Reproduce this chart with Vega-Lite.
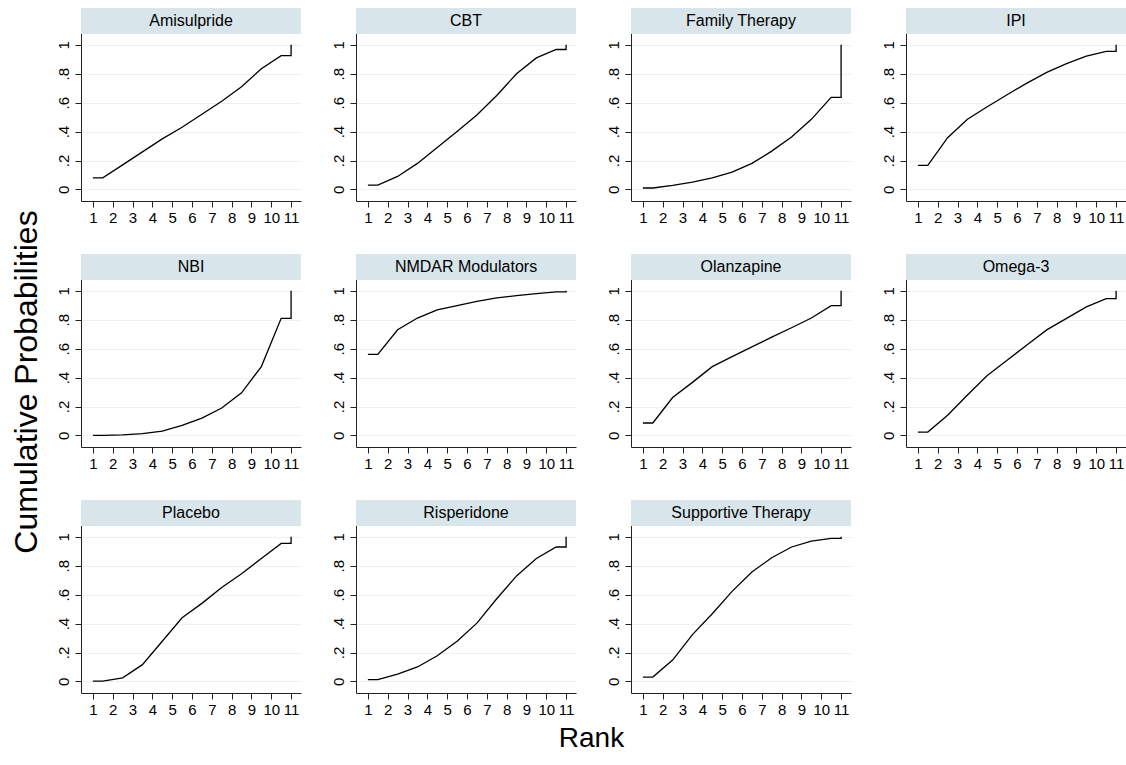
{
  "$schema": "https://vega.github.io/schema/vega-lite/v6.json",
  "padding": {"left": 10, "top": 7, "right": 0, "bottom": 5},
  "title": {"text": "Rank", "orient": "bottom", "fontSize": 28, "font": "Liberation Sans", "fontWeight": "normal", "offset": 8, "anchor": "middle", "dx": 23, "color": "#000"},
  "vconcat": [{
  "title": {"text": "Cumulative Probabilities", "orient": "left", "fontSize": 32, "font": "Liberation Sans", "fontWeight": "normal", "offset": 12, "anchor": "middle", "dx": -20, "color": "#000"},
  "data": {"values": [
    {"t":"Amisulpride","i":0,"rank":1,"p":0.08},{"t":"Amisulpride","i":1,"rank":1.5,"p":0.08},{"t":"Amisulpride","i":2,"rank":2.5,"p":0.17},{"t":"Amisulpride","i":3,"rank":3.5,"p":0.26},{"t":"Amisulpride","i":4,"rank":4.5,"p":0.35},{"t":"Amisulpride","i":5,"rank":5.5,"p":0.43},{"t":"Amisulpride","i":6,"rank":6.5,"p":0.52},{"t":"Amisulpride","i":7,"rank":7.5,"p":0.61},{"t":"Amisulpride","i":8,"rank":8.5,"p":0.71},{"t":"Amisulpride","i":9,"rank":9.5,"p":0.835},{"t":"Amisulpride","i":10,"rank":10.5,"p":0.925},{"t":"Amisulpride","i":11,"rank":11,"p":0.925},{"t":"Amisulpride","i":12,"rank":11,"p":1},
    {"t":"CBT","i":0,"rank":1,"p":0.03},{"t":"CBT","i":1,"rank":1.5,"p":0.03},{"t":"CBT","i":2,"rank":2.5,"p":0.09},{"t":"CBT","i":3,"rank":3.5,"p":0.18},{"t":"CBT","i":4,"rank":4.5,"p":0.29},{"t":"CBT","i":5,"rank":5.5,"p":0.4},{"t":"CBT","i":6,"rank":6.5,"p":0.515},{"t":"CBT","i":7,"rank":7.5,"p":0.65},{"t":"CBT","i":8,"rank":8.5,"p":0.8},{"t":"CBT","i":9,"rank":9.5,"p":0.91},{"t":"CBT","i":10,"rank":10.5,"p":0.968},{"t":"CBT","i":11,"rank":11,"p":0.968},{"t":"CBT","i":12,"rank":11,"p":1},
    {"t":"Family Therapy","i":0,"rank":1,"p":0.01},{"t":"Family Therapy","i":1,"rank":1.5,"p":0.01},{"t":"Family Therapy","i":2,"rank":2.5,"p":0.028},{"t":"Family Therapy","i":3,"rank":3.5,"p":0.05},{"t":"Family Therapy","i":4,"rank":4.5,"p":0.08},{"t":"Family Therapy","i":5,"rank":5.5,"p":0.12},{"t":"Family Therapy","i":6,"rank":6.5,"p":0.18},{"t":"Family Therapy","i":7,"rank":7.5,"p":0.265},{"t":"Family Therapy","i":8,"rank":8.5,"p":0.363},{"t":"Family Therapy","i":9,"rank":9.5,"p":0.485},{"t":"Family Therapy","i":10,"rank":10.5,"p":0.637},{"t":"Family Therapy","i":11,"rank":11,"p":0.637},{"t":"Family Therapy","i":12,"rank":11,"p":1},
    {"t":"IPI","i":0,"rank":1,"p":0.166},{"t":"IPI","i":1,"rank":1.5,"p":0.166},{"t":"IPI","i":2,"rank":2.5,"p":0.358},{"t":"IPI","i":3,"rank":3.5,"p":0.485},{"t":"IPI","i":4,"rank":4.5,"p":0.572},{"t":"IPI","i":5,"rank":5.5,"p":0.655},{"t":"IPI","i":6,"rank":6.5,"p":0.735},{"t":"IPI","i":7,"rank":7.5,"p":0.81},{"t":"IPI","i":8,"rank":8.5,"p":0.87},{"t":"IPI","i":9,"rank":9.5,"p":0.922},{"t":"IPI","i":10,"rank":10.5,"p":0.955},{"t":"IPI","i":11,"rank":11,"p":0.955},{"t":"IPI","i":12,"rank":11,"p":1},
    {"t":"NBI","i":0,"rank":1,"p":0.0},{"t":"NBI","i":1,"rank":1.5,"p":0.0},{"t":"NBI","i":2,"rank":2.5,"p":0.004},{"t":"NBI","i":3,"rank":3.5,"p":0.012},{"t":"NBI","i":4,"rank":4.5,"p":0.03},{"t":"NBI","i":5,"rank":5.5,"p":0.07},{"t":"NBI","i":6,"rank":6.5,"p":0.12},{"t":"NBI","i":7,"rank":7.5,"p":0.19},{"t":"NBI","i":8,"rank":8.5,"p":0.295},{"t":"NBI","i":9,"rank":9.5,"p":0.476},{"t":"NBI","i":10,"rank":10.5,"p":0.81},{"t":"NBI","i":11,"rank":11,"p":0.81},{"t":"NBI","i":12,"rank":11,"p":1},
    {"t":"NMDAR Modulators","i":0,"rank":1,"p":0.561},{"t":"NMDAR Modulators","i":1,"rank":1.5,"p":0.561},{"t":"NMDAR Modulators","i":2,"rank":2.5,"p":0.731},{"t":"NMDAR Modulators","i":3,"rank":3.5,"p":0.812},{"t":"NMDAR Modulators","i":4,"rank":4.5,"p":0.868},{"t":"NMDAR Modulators","i":5,"rank":5.5,"p":0.898},{"t":"NMDAR Modulators","i":6,"rank":6.5,"p":0.928},{"t":"NMDAR Modulators","i":7,"rank":7.5,"p":0.951},{"t":"NMDAR Modulators","i":8,"rank":8.5,"p":0.967},{"t":"NMDAR Modulators","i":9,"rank":9.5,"p":0.981},{"t":"NMDAR Modulators","i":10,"rank":10.5,"p":0.993},{"t":"NMDAR Modulators","i":11,"rank":11,"p":0.993},{"t":"NMDAR Modulators","i":12,"rank":11,"p":1},
    {"t":"Olanzapine","i":0,"rank":1,"p":0.086},{"t":"Olanzapine","i":1,"rank":1.5,"p":0.086},{"t":"Olanzapine","i":2,"rank":2.5,"p":0.262},{"t":"Olanzapine","i":3,"rank":3.5,"p":0.367},{"t":"Olanzapine","i":4,"rank":4.5,"p":0.476},{"t":"Olanzapine","i":5,"rank":5.5,"p":0.545},{"t":"Olanzapine","i":6,"rank":6.5,"p":0.612},{"t":"Olanzapine","i":7,"rank":7.5,"p":0.68},{"t":"Olanzapine","i":8,"rank":8.5,"p":0.745},{"t":"Olanzapine","i":9,"rank":9.5,"p":0.812},{"t":"Olanzapine","i":10,"rank":10.5,"p":0.898},{"t":"Olanzapine","i":11,"rank":11,"p":0.898},{"t":"Olanzapine","i":12,"rank":11,"p":1},
    {"t":"Omega-3","i":0,"rank":1,"p":0.023},{"t":"Omega-3","i":1,"rank":1.5,"p":0.023},{"t":"Omega-3","i":2,"rank":2.5,"p":0.14},{"t":"Omega-3","i":3,"rank":3.5,"p":0.28},{"t":"Omega-3","i":4,"rank":4.5,"p":0.415},{"t":"Omega-3","i":5,"rank":5.5,"p":0.52},{"t":"Omega-3","i":6,"rank":6.5,"p":0.625},{"t":"Omega-3","i":7,"rank":7.5,"p":0.73},{"t":"Omega-3","i":8,"rank":8.5,"p":0.81},{"t":"Omega-3","i":9,"rank":9.5,"p":0.889},{"t":"Omega-3","i":10,"rank":10.5,"p":0.947},{"t":"Omega-3","i":11,"rank":11,"p":0.947},{"t":"Omega-3","i":12,"rank":11,"p":1},
    {"t":"Placebo","i":0,"rank":1,"p":0.002},{"t":"Placebo","i":1,"rank":1.5,"p":0.002},{"t":"Placebo","i":2,"rank":2.5,"p":0.025},{"t":"Placebo","i":3,"rank":3.5,"p":0.116},{"t":"Placebo","i":4,"rank":4.5,"p":0.278},{"t":"Placebo","i":5,"rank":5.5,"p":0.44},{"t":"Placebo","i":6,"rank":6.5,"p":0.54},{"t":"Placebo","i":7,"rank":7.5,"p":0.65},{"t":"Placebo","i":8,"rank":8.5,"p":0.745},{"t":"Placebo","i":9,"rank":9.5,"p":0.85},{"t":"Placebo","i":10,"rank":10.5,"p":0.955},{"t":"Placebo","i":11,"rank":11,"p":0.955},{"t":"Placebo","i":12,"rank":11,"p":1},
    {"t":"Risperidone","i":0,"rank":1,"p":0.012},{"t":"Risperidone","i":1,"rank":1.5,"p":0.012},{"t":"Risperidone","i":2,"rank":2.5,"p":0.05},{"t":"Risperidone","i":3,"rank":3.5,"p":0.1},{"t":"Risperidone","i":4,"rank":4.5,"p":0.178},{"t":"Risperidone","i":5,"rank":5.5,"p":0.278},{"t":"Risperidone","i":6,"rank":6.5,"p":0.403},{"t":"Risperidone","i":7,"rank":7.5,"p":0.572},{"t":"Risperidone","i":8,"rank":8.5,"p":0.73},{"t":"Risperidone","i":9,"rank":9.5,"p":0.85},{"t":"Risperidone","i":10,"rank":10.5,"p":0.93},{"t":"Risperidone","i":11,"rank":11,"p":0.93},{"t":"Risperidone","i":12,"rank":11,"p":1},
    {"t":"Supportive Therapy","i":0,"rank":1,"p":0.03},{"t":"Supportive Therapy","i":1,"rank":1.5,"p":0.03},{"t":"Supportive Therapy","i":2,"rank":2.5,"p":0.148},{"t":"Supportive Therapy","i":3,"rank":3.5,"p":0.324},{"t":"Supportive Therapy","i":4,"rank":4.5,"p":0.468},{"t":"Supportive Therapy","i":5,"rank":5.5,"p":0.623},{"t":"Supportive Therapy","i":6,"rank":6.5,"p":0.757},{"t":"Supportive Therapy","i":7,"rank":7.5,"p":0.856},{"t":"Supportive Therapy","i":8,"rank":8.5,"p":0.93},{"t":"Supportive Therapy","i":9,"rank":9.5,"p":0.97},{"t":"Supportive Therapy","i":10,"rank":10.5,"p":0.99},{"t":"Supportive Therapy","i":11,"rank":11,"p":0.99},{"t":"Supportive Therapy","i":12,"rank":11,"p":1}
  ]},
  "facet": {"field": "t", "type": "nominal", "header": {"labels": false, "labelExpr": "''", "labelPadding": 0, "labelFontSize": 1, "title": null}},
  "columns": 4,
  "spacing": {"row": 28, "column": 29},
  "resolve": {"axis": {"x": "independent", "y": "independent"}},
  "spec": {
    "width": 220,
    "height": 193,
    "layer": [
      {
        "mark": {"type": "line", "color": "#000", "strokeWidth": 1.3},
        "encoding": {
          "x": {"field": "rank", "type": "quantitative",
            "scale": {"domain": [0.4, 11.5], "nice": false, "zero": false},
            "axis": {"values": [1,2,3,4,5,6,7,8,9,10,11], "tickCount": 11, "title": null, "grid": false, "labelOverlap": false, "labelFontSize": 15, "tickSize": 6, "labelPadding": 3}},
          "y": {"field": "p", "type": "quantitative",
            "scale": {"domain": [-0.08, 1.255], "nice": false, "zero": false},
            "axis": {"values": [0,0.2,0.4,0.6,0.8,1], "tickCount": 6, "format": ".1~f", "labelExpr": "datum.value > 0 && datum.value < 1 ? substring(datum.label, 1) : datum.label", "title": null, "grid": true, "labelOverlap": false, "labelFontSize": 15, "tickSize": 6, "labelPadding": 4, "labelAngle": 270}},
          "order": {"field": "i", "type": "quantitative"}
        }
      },
      {
        "transform": [{"filter": "datum.i == 0"}],
        "mark": {"type": "rect", "color": "#d8e5eb"},
        "encoding": {"x": {"datum": 0.4}, "x2": {"datum": 11.5}, "y": {"datum": 1.075}, "y2": {"datum": 1.255}}
      },
      {
        "transform": [{"filter": "datum.i == 0"}],
        "mark": {"type": "text", "fontSize": 16, "font": "Liberation Sans", "color": "#000"},
        "encoding": {"x": {"datum": 5.95}, "y": {"datum": 1.165}, "text": {"field": "t"}}
      }
    ]
  }
  }],
  "config": {
    "view": {"stroke": null},
    "font": "Liberation Sans",
    "header": {"labels": false},
    "axis": {"labelOverlap": false, "labelFlush": false, "labelBound": false, "tickSize": 6, "labelFontSize": 15, "labelFont": "Liberation Sans", "domainColor": "#222", "tickColor": "#222", "labelColor": "#000", "zindex": 0, "title": null},
    "axisX": {"labelPadding": 3, "grid": false},
    "axisY": {"labelAngle": 270, "labelPadding": 4, "grid": true, "gridColor": "#eaf2f3", "gridWidth": 1.2}
  }
}
